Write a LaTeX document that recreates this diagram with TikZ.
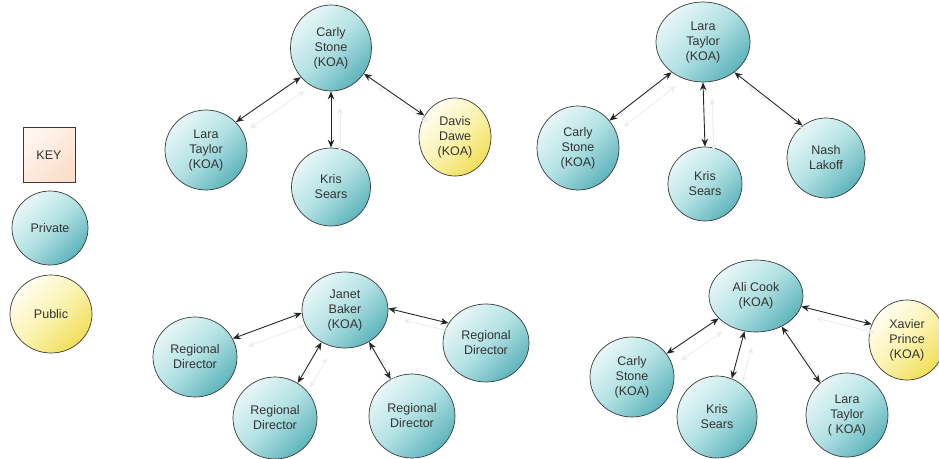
\documentclass[tikz,border=0pt]{standalone}
\usepackage{fontspec}
\setmainfont{Liberation Sans}
\usetikzlibrary{shapes.geometric,arrows.meta}
\definecolor{edge}{HTML}{3A3A3A}
\definecolor{txt}{HTML}{333333}
\definecolor{tealL}{HTML}{E8F7F7}
\definecolor{tealM}{HTML}{B2E1E3}
\definecolor{tealD}{HTML}{5EB4BC}
\definecolor{yelL}{HTML}{FFFEF2}
\definecolor{yelM}{HTML}{FBF3B0}
\definecolor{yelD}{HTML}{F1DF58}
\definecolor{peachL}{HTML}{FFF6F0}
\definecolor{peachD}{HTML}{FBDFCB}
\begin{document}
\begin{tikzpicture}[x=1pt,y=-1pt,
  person/.style={ellipse, draw=edge, line width=0.7pt, inner sep=0pt, align=center,
    font=\fontsize{12.5}{15}\selectfont, text=txt},
  priv/.style={person, top color=tealL, bottom color=tealD, middle color=tealM, shading angle=45},
  pub/.style={person, top color=yelL, bottom color=yelD, middle color=yelM, shading angle=45},
  keybox/.style={rectangle, draw=edge, line width=0.7pt, inner sep=0pt,
    top color=peachL, bottom color=peachD, shading angle=45,
    font=\fontsize{12.5}{15}\selectfont, text=txt},
  link/.style={<->, >={Stealth[length=8pt,width=6.5pt]}, line width=0.9pt, draw=black!85},
  ghost/.style={<->, >={Stealth[length=7pt,width=6pt]}, line width=0.9pt, draw=black!7,
    shorten <=6pt, shorten >=6pt, transform canvas={shift={(9,10)}}},
]
\useasboundingbox (0,0) rectangle (939,458);
\clip (0,0) rectangle (939,458);

% legend
\node[keybox, minimum width=52pt, minimum height=55pt] (key) at (49,155) {KEY};
\node[priv, minimum width=76pt, minimum height=74pt] (kpriv) at (50,228) {Private};
\node[pub, minimum width=82pt, minimum height=78pt] (kpub) at (51,314) {Public};

% cluster: Carly Stone
\node[priv, minimum width=81pt, minimum height=86pt] (c1) at (331,48) {Carly\\Stone\\(KOA)};
\node[priv, minimum width=82pt, minimum height=80pt] (c1a) at (206,150) {Lara\\Taylor\\(KOA)};
\node[priv, minimum width=79pt, minimum height=78pt] (c1b) at (331,187) {Kris\\Sears};
\node[pub, minimum width=72pt, minimum height=78pt] (c1c) at (455,137) {Davis\\Dawe\\(KOA)};
\draw[ghost] (c1.224) -- (c1a.43);
\draw[ghost] (c1.270) -- (c1b.90);
\draw[ghost] (c1.322) -- (c1c.145);
\draw[link] (c1.224) -- (c1a.43);
\draw[link] (c1.270) -- (c1b.90);
\draw[link] (c1.322) -- (c1c.145);

% cluster: Lara Taylor
\node[priv, minimum width=94pt, minimum height=80pt] (c2) at (703,42) {Lara\\Taylor\\(KOA)};
\node[priv, minimum width=82pt, minimum height=84pt] (c2a) at (578,148) {Carly\\Stone\\(KOA)};
\node[priv, minimum width=74pt, minimum height=74pt] (c2b) at (705,184) {Kris\\Sears};
\node[priv, minimum width=78pt, minimum height=80pt] (c2c) at (826,158) {Nash\\Lakoff};
\draw[ghost] (c2.224) -- (c2a.41);
\draw[ghost] (c2.270) -- (c2b.90);
\draw[ghost] (c2.316) -- (c2c.126);
\draw[link] (c2.224) -- (c2a.41);
\draw[link] (c2.270) -- (c2b.90);
\draw[link] (c2.316) -- (c2c.126);

% cluster: Janet Baker
\node[priv, minimum width=86pt, minimum height=76pt] (c3) at (345,310) {Janet\\Baker\\(KOA)};
\node[priv, minimum width=84pt, minimum height=80pt] (c3a) at (195,357) {Regional\\Director};
\node[priv, minimum width=84pt, minimum height=82pt] (c3b) at (275,418) {Regional\\Director};
\node[priv, minimum width=86pt, minimum height=84pt] (c3c) at (412,416) {Regional\\Director};
\node[priv, minimum width=86pt, minimum height=78pt] (c3d) at (486,343) {Regional\\Director};
\draw[ghost] (c3.184) -- (c3a.26);
\draw[ghost] (c3.234) -- (c3b.57);
\draw[ghost] (c3.307) -- (c3c.120);
\draw[ghost] (c3.2) -- (c3d.152);
\draw[link] (c3.184) -- (c3a.26);
\draw[link] (c3.234) -- (c3b.57);
\draw[link] (c3.307) -- (c3c.120);
\draw[link] (c3.2) -- (c3d.152);

% cluster: Ali Cook
\node[priv, minimum width=94pt, minimum height=72pt] (c4) at (756,296) {Ali Cook\\(KOA)};
\node[priv, minimum width=84pt, minimum height=80pt] (c4a) at (632,377) {Carly\\Stone\\(KOA)};
\node[priv, minimum width=80pt, minimum height=82pt] (c4b) at (717,417) {Kris\\Sears};
\node[priv, minimum width=82pt, minimum height=84pt] (c4c) at (847,415) {Lara\\Taylor\\( KOA)};
\node[pub, minimum width=76pt, minimum height=80pt] (c4d) at (907,340) {Xavier\\Prince\\(KOA)};
\draw[ghost] (c4.211) -- (c4a.34);
\draw[ghost] (c4.252) -- (c4b.69);
\draw[ghost] (c4.310) -- (c4c.130);
\draw[ghost] (c4.347) -- (c4d.156);
\draw[link] (c4.211) -- (c4a.34);
\draw[link] (c4.252) -- (c4b.69);
\draw[link] (c4.310) -- (c4c.130);
\draw[link] (c4.347) -- (c4d.156);
\end{tikzpicture}
\end{document}
